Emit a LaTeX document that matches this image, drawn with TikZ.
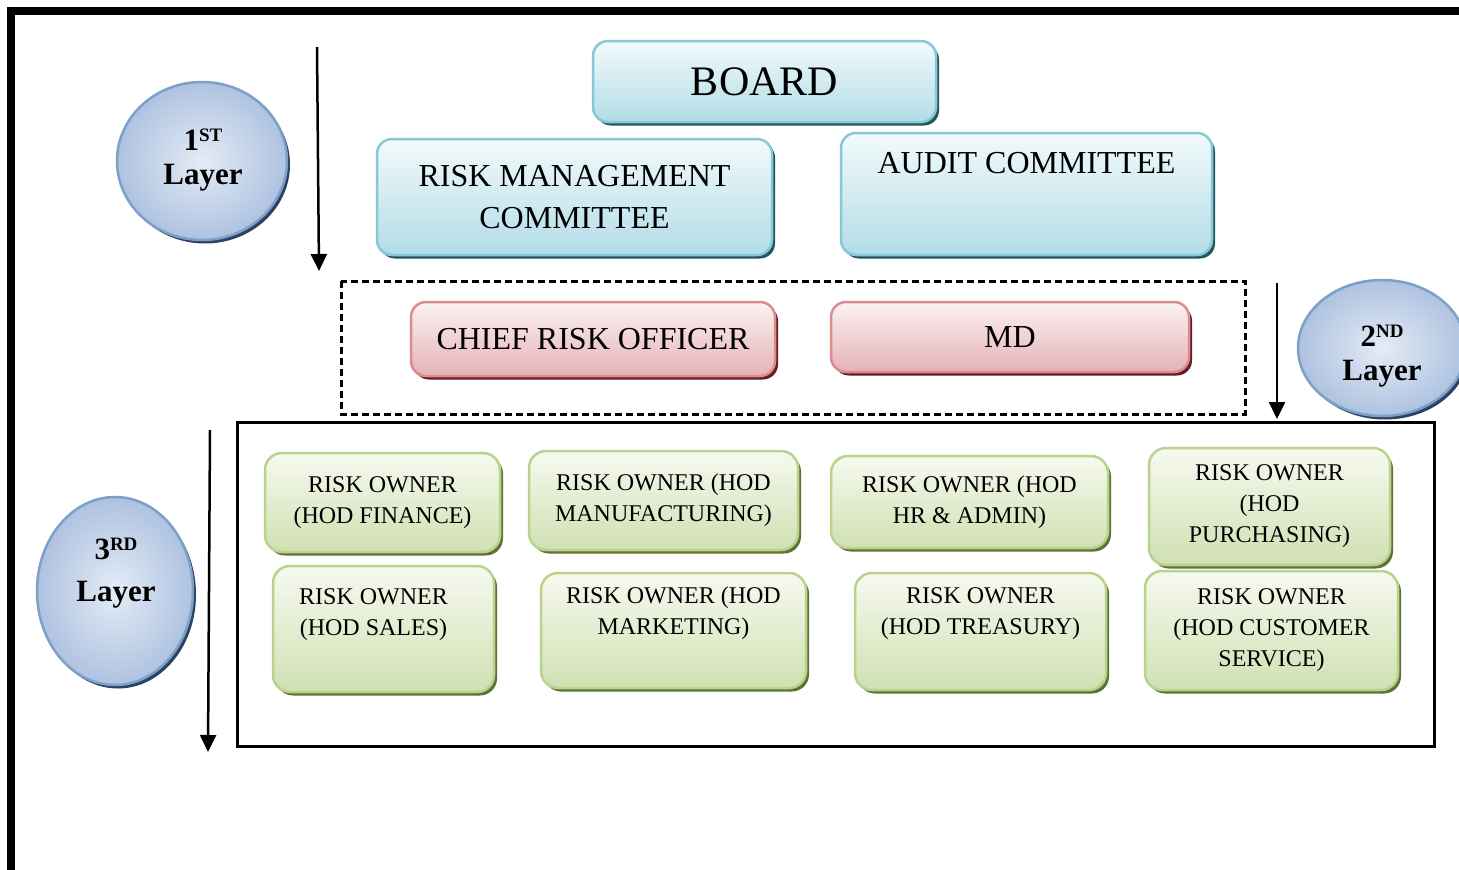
\documentclass[tikz,border=0pt]{standalone}
\usepackage{fontspec}
\setmainfont{Liberation Serif}
\usetikzlibrary{shapes.geometric,shadows,arrows.meta}

% palette
\definecolor{bluebd}{RGB}{135,200,215}
\definecolor{bluetop}{RGB}{242,250,252}
\definecolor{bluebot}{RGB}{178,220,230}
\definecolor{blueshd}{RGB}{35,85,95}
\definecolor{redbd}{RGB}{218,140,145}
\definecolor{redtop}{RGB}{252,242,242}
\definecolor{redbot}{RGB}{228,178,182}
\definecolor{redshd}{RGB}{100,30,35}
\definecolor{grnbd}{RGB}{185,210,140}
\definecolor{grntop}{RGB}{247,249,240}
\definecolor{grnbot}{RGB}{208,224,178}
\definecolor{grnshd}{RGB}{95,115,55}
\definecolor{ballbd}{RGB}{125,160,200}
\definecolor{balllt}{RGB}{228,236,246}
\definecolor{balldk}{RGB}{174,194,224}
\definecolor{ballshd}{RGB}{45,65,100}

\tikzset{
  x=1pt, y=-1pt,
  box/.style={rounded corners=15pt, line width=2.5pt, inner sep=0pt, align=center},
  bluebox/.style={box, draw=bluebd, top color=bluetop, bottom color=bluebot,
    drop shadow={shadow xshift=3pt, shadow yshift=-3.5pt, fill=blueshd, opacity=1},
    font=\fontsize{32}{42}\selectfont},
  redbox/.style={box, draw=redbd, top color=redtop, bottom color=redbot,
    drop shadow={shadow xshift=3pt, shadow yshift=-3.5pt, fill=redshd, opacity=1},
    font=\fontsize{32}{42}\selectfont},
  grnbox/.style={box, rounded corners=17pt, draw=grnbd, top color=grntop, bottom color=grnbot,
    drop shadow={shadow xshift=3pt, shadow yshift=-3.5pt, fill=grnshd, opacity=1},
    font=\fontsize{24}{31}\selectfont},
  ball/.style={ellipse, inner sep=0pt, line width=2.5pt, draw=ballbd,
    shading=radial, inner color=balllt, outer color=balldk,
    drop shadow={shadow xshift=3pt, shadow yshift=-3.5pt, fill=ballshd, opacity=1}},
  balltext/.style={align=center, font=\bfseries\fontsize{31}{34}\selectfont},
  layerarrow/.style={line width=2.5pt, -{Triangle[length=17pt,width=16pt]}},
  groupframe/.style={line width=3pt},
}

\begin{document}
\begin{tikzpicture}
\useasboundingbox (0,0) rectangle (1459,870);
\clip (0,0) rectangle (1459,870);
\fill[white] (0,0) rectangle (1459,870);

% outer frame
\draw[line width=7.5pt] (11,875) -- (11,11) -- (1465,11);

% group frames
\draw[groupframe, dash pattern=on 7pt off 4pt] (341,281) rectangle (1245,414);
\draw[groupframe] (237,422) rectangle (1434,746);

% first layer
\node[bluebox, minimum width=343pt, minimum height=81pt] (board) at (764.5,81.5)
  {\fontsize{42}{48}\selectfont BOARD};
\node[bluebox, minimum width=395pt, minimum height=116pt] (rmc) at (574.5,197)
  {RISK MANAGEMENT\\COMMITTEE};
\node[bluebox, minimum width=371pt, minimum height=122pt] (audit) at (1026.5,194)
  {AUDIT COMMITTEE\\[8pt]\strut};

% second layer
\node[redbox, minimum width=364pt, minimum height=74pt] (cro) at (593,339)
  {CHIEF RISK OFFICER};
\node[redbox, minimum width=358pt, minimum height=70pt] (md) at (1010,337)
  {MD};

% third layer
\node[grnbox, minimum width=235pt, minimum height=99pt] (finance) at (382.5,502.5)
  {RISK OWNER\\(HOD FINANCE)};
\node[grnbox, minimum width=269pt, minimum height=99pt] (manuf) at (663.5,500.5)
  {RISK OWNER (HOD\\MANUFACTURING)};
\node[grnbox, minimum width=277pt, minimum height=92pt] (hr) at (969.5,502)
  {RISK OWNER (HOD\\HR \& ADMIN)};
\node[grnbox, minimum width=241pt, minimum height=117pt] (purch) at (1269.5,506.5)
  {RISK OWNER\\(HOD\\PURCHASING)};
\node[grnbox, minimum width=221pt, minimum height=126pt] (sales) at (383.5,629)
  {\begin{tabular}{@{}c@{}}RISK OWNER\\(HOD SALES)\\\strut\end{tabular}\hspace*{20pt}};
\node[grnbox, minimum width=265pt, minimum height=115pt] (mkt) at (673.5,630.5)
  {RISK OWNER (HOD\\MARKETING)\\\strut};
\node[grnbox, minimum width=251pt, minimum height=117pt] (treas) at (980.5,631.5)
  {RISK OWNER\\(HOD TREASURY)\\\strut};
\node[grnbox, minimum width=253pt, minimum height=119pt] (cust) at (1271.5,630.5)
  {RISK OWNER\\(HOD CUSTOMER\\SERVICE)};

% layer badges
\node[ball, minimum width=170pt, minimum height=158pt] (l1) at (202,161) {};
\node[balltext] (l1t) at (203,160)
  {1\raisebox{9pt}{\fontsize{19}{19}\selectfont ST}\\Layer};
\node[ball, minimum width=168pt, minimum height=136pt] (l2) at (1382,348) {};
\node[balltext] (l2t) at (1382,356)
  {2\raisebox{9pt}{\fontsize{19}{19}\selectfont ND}\\Layer};
\node[ball, minimum width=156pt, minimum height=188pt] (l3) at (115,591) {};
\node[balltext, font=\bfseries\fontsize{31}{42}\selectfont] (l3t) at (116,573)
  {3\raisebox{9pt}{\fontsize{19}{19}\selectfont RD}\\Layer};

% layer arrows
\coordinate (a1s) at (317,47);
\coordinate (a1e) at (319,271);
\coordinate (a2s) at (1277,283);
\coordinate (a2e) at (1277,419);
\coordinate (a3s) at (210,430);
\coordinate (a3e) at (208,752);
\draw[layerarrow] (a1s) -- (a1e);
\draw[layerarrow] (a2s) -- (a2e);
\draw[layerarrow] (a3s) -- (a3e);
\end{tikzpicture}
\end{document}
